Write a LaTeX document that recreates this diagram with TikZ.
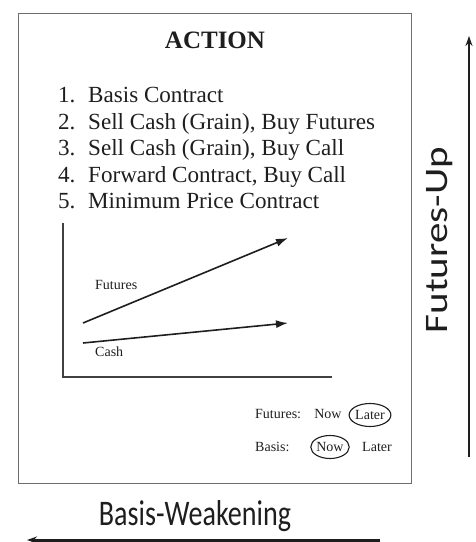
\documentclass[tikz,border=0pt]{standalone}
\usepackage{fontspec}
\setmainfont{Liberation Serif}
\newfontfamily\calib{Carlito}
\usetikzlibrary{arrows.meta,shapes.geometric}
\definecolor{ink}{HTML}{1E1E1E}
\definecolor{frame}{HTML}{6E6E6E}
\begin{document}
\begin{tikzpicture}[x=1pt,y=-1pt,
  listtxt/.style={anchor=base west,inner sep=0pt,text=ink,font=\fontsize{23.1}{28}\selectfont},
  small/.style={inner sep=0pt,text=ink,font=\fontsize{14}{16}\selectfont},
  circ/.style={ellipse,draw=ink,line width=1.1pt,minimum width=38pt,minimum height=23pt,inner sep=0pt,text=ink,font=\fontsize{14}{16}\selectfont},
  axis/.style={draw=ink!85,line width=1.7pt},
  trend/.style={draw=ink,line width=1.6pt,-{Latex[length=12pt,width=8pt]}},
  bigarrow/.style={draw=ink,line width=2.2pt,-{Stealth[length=10pt,width=7pt]}}]
\useasboundingbox (0,0) rectangle (475,542);
\node[draw=frame,line width=1.3pt,minimum width=393pt,minimum height=470pt,anchor=north west,inner sep=0pt] (box) at (18,13) {};
\node[text=ink,font=\fontsize{25}{30}\selectfont\bfseries] (title) at (215,40) {ACTION};
\foreach \n/\y/\t in {1/102/Basis Contract,2/129/{Sell Cash (Grain), Buy Futures},3/155/{Sell Cash (Grain), Buy Call},4/182/{Forward Contract, Buy Call},5/208/Minimum Price Contract}{
  \node[listtxt] (num\n) at (58,\y) {\n.};
  \node[listtxt] (item\n) at (88,\y) {\t};
}
\coordinate (ytop) at (63,223);
\coordinate (orig) at (63,377);
\coordinate (xend) at (332,377);
\draw[axis] (ytop) -- (orig) -- (xend);
\coordinate (fs) at (83,323);
\coordinate (fe) at (288,238);
\coordinate (cs) at (83,343);
\coordinate (ce) at (288,323);
\draw[trend] (fs) -- (fe);
\draw[trend] (cs) -- (ce);
\node[small,anchor=west] (flab) at (95,285) {Futures};
\node[small,anchor=west] (clab) at (95,352) {Cash};
\node[small,anchor=west] (lf) at (255,414) {Futures:};
\node[small] (fnow) at (328,414) {Now};
\node[circ] (flater) at (370,415) {Later};
\node[small,anchor=west] (lb) at (255,447) {Basis:};
\node[circ] (bnow) at (330,447) {Now};
\node[small] (blater) at (377,447) {Later};
\coordinate (upbot) at (469,457);
\coordinate (uptop) at (469,36);
\draw[bigarrow,line width=2pt] (upbot) -- (uptop);
\node[rotate=90,inner sep=0pt,text=ink] (uplab) at (440,240) {\scalebox{1}[0.8]{\calib\fontsize{41}{46}\selectfont Futures-Up}};
\node[inner sep=0pt,text=ink] (wlab) at (195,516) {\scalebox{0.78}[1]{\calib\fontsize{36}{40}\selectfont Basis-Weakening}};
\coordinate (wr) at (380,540);
\coordinate (wl) at (27,540);
\draw[bigarrow,line width=3pt] (wr) -- (wl);
\end{tikzpicture}
\end{document}
